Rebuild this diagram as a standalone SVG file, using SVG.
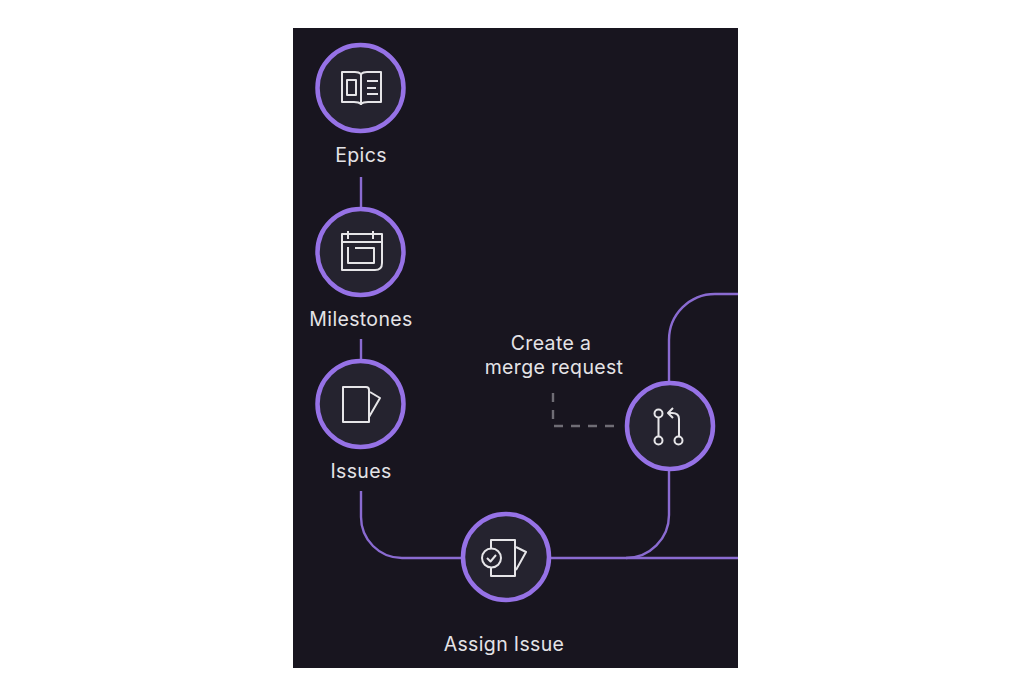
<svg xmlns="http://www.w3.org/2000/svg" width="1020" height="696" viewBox="0 0 1020 696">
<style>
.bg{fill:#18151f}
.conn{fill:none;stroke:#8a6bd1;stroke-width:2.4}
.dash{fill:none;stroke:#6f6d75;stroke-width:2.4;stroke-dasharray:9 8}
.disc{fill:#25232f;stroke:#9672e6;stroke-width:4.5}
.ico{fill:none;stroke:#e6e5e8;stroke-width:2;stroke-linejoin:round}
text{font-family:Inter,"Liberation Sans",sans-serif;font-size:19.500px;letter-spacing:.35px;fill:#e4e3e6;text-anchor:middle}
</style>
<rect width="1020" height="696" fill="#ffffff"/>
<rect class="bg" x="293" y="28" width="445" height="640"/>
<g id="connectors">
<path class="conn" d="M361 177V208"/>
<path class="conn" d="M361 339V360"/>
<path class="conn" d="M361 491V517A41 41 0 0 0 402 558H462"/>
<path class="conn" d="M550 558H738"/>
<path class="conn" d="M669 471V515A43 43 0 0 1 626 558"/>
<path class="conn" d="M669 382V340A46 46 0 0 1 715 294H738"/>
<path class="dash" d="M553 393V426H616"/>
</g>
<g id="epics">
<circle class="disc" cx="360.500" cy="88" r="43"/>
<path class="ico" d="M342 78V72H355Q359 72 361 74Q363 72 367 72H381V78M342 76V102H354Q359 102 361 104Q363 102 368 102H381V76M361 74V105"/>
<path class="ico" d="M347 80H356V95H347ZM367 81H378M367 88H376M367 94H378"/>
<text x="361" y="162">Epics</text>
</g>
<g id="milestones">
<circle class="disc" cx="360.500" cy="252" r="43"/>
<path class="ico" d="M342 234H382V263Q382 270 375 270H342ZM348 231V239M373 231V239M342 242H382M355 248H374V263H348V247"/>
<text x="361" y="326">Milestones</text>
</g>
<g id="issues">
<circle class="disc" cx="360.500" cy="404" r="43"/>
<path class="ico" d="M343 387H366Q369 387 369 390V422H343ZM370 392L380 398L369 417"/>
<text x="361" y="478">Issues</text>
</g>
<g id="assign-issue">
<circle class="disc" cx="506" cy="557" r="43"/>
<path class="ico" d="M491 548V540H515V576H491V568M516 547L526 552L516 570"/>
<circle class="ico" cx="491.500" cy="558" r="9.500"/>
<path class="ico" d="M487 558L490.500 561.500L496 555"/>
<text x="504" y="651">Assign Issue</text>
</g>
<g id="merge-request">
<circle class="disc" cx="670" cy="426" r="43"/>
<circle class="ico" cx="658.500" cy="413.500" r="4"/>
<circle class="ico" cx="658.500" cy="440.500" r="4"/>
<circle class="ico" cx="678.500" cy="440.500" r="4"/>
<path class="ico" d="M658.500 417.500V436.500M679 436.500V419Q679 413 672 413H668M673 408L668 413L673 418"/>
<text x="551" y="350">Create a</text>
<text x="554" y="374">merge request</text>
</g>
</svg>
